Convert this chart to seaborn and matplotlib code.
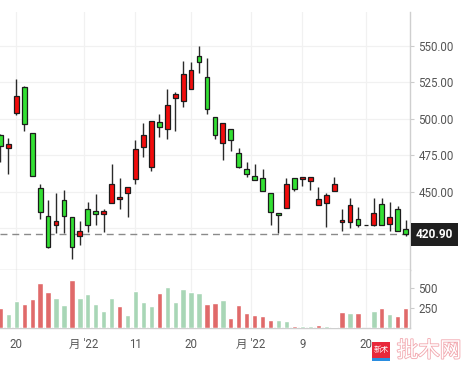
import numpy as np
import pandas as pd
import matplotlib
matplotlib.use("Agg")
import matplotlib.pyplot as plt
import matplotlib.transforms as mtransforms
import matplotlib.patheffects as pe
from matplotlib.patches import Rectangle
import seaborn as sns

# ---------------- data ----------------
opens = [489.0, 480.0, 504.0, 521.7, 490.2, 452.5, 433.4, 427.2, 444.3, 432.7,
         419.7, 438.1, 436.8, 434.5, 442.3, 444.7, 448.8, 458.7, 480.6, 466.9,
         497.9, 493.0, 514.2, 512.1, 520.3, 543.0, 528.6, 501.2, 483.4, 493.0,
         476.5, 465.5, 461.0, 459.4, 449.1, 435.4, 438.9, 459.4, 458.7, 457.3,
         440.9, 442.3, 450.5, 429.2, 429.5, 431.3, 427.4, 427.2, 441.8, 427.9,
         438.1, 424.5]
highs = [489.5, 487.0, 527.2, 522.8, 490.2, 455.3, 444.3, 449.1, 451.4, 432.7,
         429.7, 443.0, 448.4, 438.4, 469.2, 459.6, 453.4, 485.6, 497.1, 498.6,
         503.4, 520.3, 518.3, 539.5, 538.8, 550.0, 541.6, 501.2, 497.1, 493.0,
         479.9, 470.3, 469.0, 465.6, 449.1, 435.4, 459.4, 459.4, 460.1, 460.1,
         453.2, 449.1, 460.1, 438.1, 445.7, 439.5, 427.4, 445.7, 445.7, 443.0,
         440.2, 430.6]
lows = [470.5, 462.3, 502.3, 492.0, 460.8, 431.5, 411.4, 421.7, 421.7, 403.9,
        413.5, 422.4, 427.2, 422.1, 442.3, 438.1, 432.7, 455.5, 473.8, 464.2,
        487.5, 486.1, 491.8, 508.0, 520.3, 531.3, 503.4, 486.5, 471.7, 477.9,
        466.0, 459.8, 458.0, 450.2, 427.2, 421.5, 438.9, 450.5, 453.9, 451.2,
        440.9, 425.8, 450.5, 422.8, 425.1, 426.0, 427.4, 426.7, 427.2, 423.1,
        423.1, 419.9]
closes = [481.5, 483.0, 516.0, 496.6, 460.8, 436.3, 411.8, 430.0, 433.6, 412.3,
          423.1, 427.2, 434.7, 436.8, 455.3, 446.6, 453.4, 479.5, 488.8, 498.6,
          494.3, 509.4, 516.9, 530.6, 533.4, 538.8, 506.6, 488.8, 497.1, 485.6,
          467.3, 462.1, 458.0, 450.2, 436.1, 434.0, 455.3, 451.8, 460.1, 460.1,
          445.0, 447.9, 455.3, 430.6, 441.1, 427.2, 427.4, 435.6, 427.2, 432.7,
          423.1, 420.9]
volumes = [246, 175, 337, 300, 362, 562, 450, 375, 287, 600,
           375, 416, 300, 212, 375, 275, 162, 462, 325, 275,
           429, 512, 325, 487, 450, 437, 300, 312, 350, 125,
           287, 187, 158, 146, 100, 96, 83, 21, 21, 21,
           33, 21, 12, 196, 183, 183, 0, 208, 246, 171,
           154, 246]
volume_side = ["r", "g", "g", "r", "r", "r", "r", "g", "g", "r",
               "g", "g", "g", "g", "g", "r", "g", "g", "g", "g",
               "r", "g", "g", "g", "g", "g", "r", "r", "g", "r",
               "r", "r", "r", "r", "r", "g", "g", "r", "g", "g",
               "r", "g", "g", "r", "g", "r", "g", "g", "r", "g",
               "r", "r"]
last_price = 420.90
x_tick_pos = [2, 10.5, 17, 24, 31.5, 38, 46]
x_tick_labels = ["20", "月 '22", "11", "20", "月 '22", "9", "20"]
price_ticks = [425, 450, 475, 500, 525, 550]
volume_ticks = [250, 500]

# ---------------- style ----------------
sns.set_style("white")
plt.rcParams["font.family"] = ["Roboto", "Noto Sans CJK SC", "DejaVu Sans"]

W, H = 470, 375
fig = plt.figure(figsize=(W / 100, H / 100), dpi=100)
ax = fig.add_axes([0, 1 - 270 / H, 410 / W, (270 - 12) / H])
axv = fig.add_axes([0, 1 - 328 / H, 410 / W, (328 - 270) / H], sharex=ax)

idx = np.arange(len(opens))
o = np.array(opens); c = np.array(closes)
hi = np.array(highs); lo = np.array(lows)

RED = "#f20c0c"
GREEN = "#33e033"
EDGE = "#1c1c1c"
up = c >= o

# wicks
ax.vlines(idx, lo, hi, color="#2a2a2a", lw=1.0, zorder=3)
# bodies
bottoms = np.minimum(o, c)
heights = np.abs(c - o)
cols = [RED if u else GREEN for u in up]
ax.bar(idx, heights, bottom=bottoms, width=0.6, color=cols,
       edgecolor=EDGE, linewidth=0.9, zorder=4)

ax.axhline(last_price, color="#8a8a8a", lw=1.0, ls=(0, (5, 3.5)), zorder=2)

ax.set_xlim(-0.05, 51.55)
ax.set_ylim(396.3, 573.3)
ax.set_yticks(price_ticks)
ax.set_yticklabels([f"{v:.2f}" for v in price_ticks])
ax.yaxis.tick_right()
ax.tick_params(axis="y", length=3, width=0.8, color="#cccccc", pad=3,
               labelsize=8.3, labelcolor="#555555")
ax.tick_params(axis="x", bottom=False, labelbottom=False)
ax.set_xticks(x_tick_pos)
ax.grid(True, color="#f1f1f1", lw=0.9)
for s in ["top", "left"]:
    ax.spines[s].set_visible(False)
for s in ["right", "bottom"]:
    ax.spines[s].set_color("#cfcfcf")
    ax.spines[s].set_linewidth(1.0)

# last price label box (covers the 425.00 tick label as in the original)
trans = mtransforms.blended_transform_factory(ax.transAxes, ax.transData)
ax.annotate(f"{last_price:.2f}", xy=(1.0, last_price), xycoords=trans,
            xytext=(4.2, 0), textcoords="offset points",
            ha="left", va="center", color="white", fontsize=8.6,
            fontweight="bold", annotation_clip=False, zorder=20,
            bbox=dict(boxstyle="square,pad=0.42", fc="#1f1f1f", ec="none"))

# ---------------- volume ----------------
vdf = pd.DataFrame({"i": idx, "vol": volumes, "side": volume_side})
sns.barplot(data=vdf, x="i", y="vol", hue="side", native_scale=True,
            palette={"r": "#e06a6a", "g": "#a8d6b6"}, dodge=False,
            width=0.67, legend=False, ax=axv, saturation=1, zorder=3)
axv.set_ylim(0, 720)
axv.set_xlim(-0.05, 51.55)
axv.set_yticks(volume_ticks)
axv.set_yticklabels([str(v) for v in volume_ticks])
axv.yaxis.tick_right()
axv.set_xlabel(""); axv.set_ylabel("")
axv.tick_params(axis="y", length=3, width=0.8, color="#cccccc", pad=3,
                labelsize=8.3, labelcolor="#555555")
axv.set_xticks(x_tick_pos)
axv.set_xticklabels(x_tick_labels)
axv.tick_params(axis="x", length=3, width=0.8, color="#dddddd", pad=4,
                labelsize=8.3, labelcolor="#555555")
axv.grid(True, axis="x", color="#f1f1f1", lw=0.9)
axv.grid(False, axis="y")
for s in ["top", "left"]:
    axv.spines[s].set_visible(False)
for s in ["right", "bottom"]:
    axv.spines[s].set_color("#cfcfcf")
    axv.spines[s].set_linewidth(1.0)
axv.set_axisbelow(True)
ax.set_axisbelow(True)

# ---------------- watermark ----------------
fig.patches.append(Rectangle((372 / W, 1 - 358 / H), 18 / W, 16 / H,
                             transform=fig.transFigure, fc="#e8283a", ec="none", zorder=5))
fig.patches.append(Rectangle((372 / W, 1 - 361 / H), 18 / W, 3 / H,
                             transform=fig.transFigure, fc="#2a8de0", ec="none", zorder=5))
fig.text(381 / W, 1 - 350 / H, "新术", color="white", fontsize=5.5,
         ha="center", va="center", family=["Noto Sans CJK SC"], zorder=6)
fig.text(429 / W, 1 - 351 / H, "批木网", color="white", fontsize=15.5,
         ha="center", va="center", family=["Noto Sans CJK SC"], zorder=6,
         path_effects=[pe.withStroke(linewidth=1.2, foreground="#f2a7ae")])

fig.savefig("out.png", dpi=100)
